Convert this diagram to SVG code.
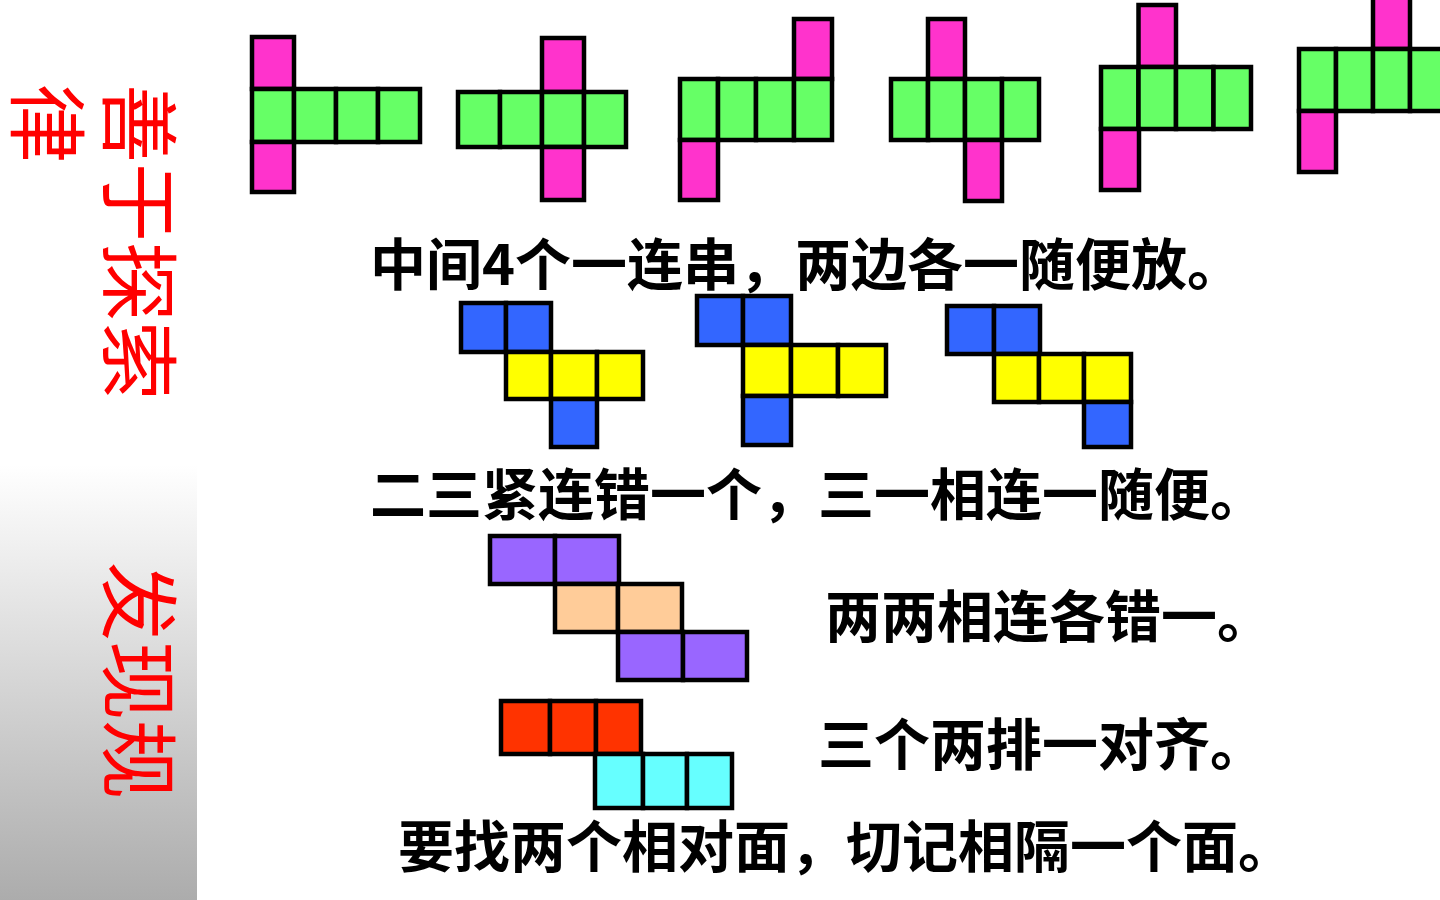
<svg xmlns="http://www.w3.org/2000/svg" width="1440" height="900" viewBox="0 0 1440 900">
<defs>
<linearGradient id="side" x1="0" y1="0" x2="0" y2="1">
<stop offset="0" stop-color="#ffffff"/>
<stop offset="1" stop-color="#acacac"/>
</linearGradient>
</defs>
<style>
rect.c{stroke:#000;stroke-width:4.5}
.g{fill:#66ff66}.m{fill:#ff33cc}.b{fill:#3366ff}.y{fill:#ffff00}
.p{fill:#9966ff}.o{fill:#ffcc99}.r{fill:#ff3300}.cy{fill:#66ffff}
.side{font-family:"Noto Sans CJK SC","Noto Sans CJK JP",sans-serif;font-size:79px;fill:#ff0000}
.t{font-family:"Noto Sans CJK SC","Noto Sans CJK JP",sans-serif;font-size:56px;font-weight:bold;fill:#000}
</style>
<rect width="1440" height="900" fill="#ffffff"/>
<g id="sidebar">
<rect x="0" y="465" width="197" height="435" fill="url(#side)"/>
<text class="side" transform="translate(109,84) rotate(90)">善于探索</text>
<text class="side" transform="translate(109,562) rotate(90)">发现规</text>
<text class="side" transform="translate(17,84) rotate(90)">律</text>
</g>
<g id="net1">
<rect class="c m" x="252" y="37" width="42" height="52"/>
<rect class="c g" x="252" y="89" width="42" height="53"/>
<rect class="c g" x="294" y="89" width="42" height="53"/>
<rect class="c g" x="336" y="89" width="42" height="53"/>
<rect class="c g" x="378" y="89" width="42" height="53"/>
<rect class="c m" x="252" y="142" width="42" height="50"/>
</g>
<g id="net2">
<rect class="c m" x="542" y="38" width="42" height="54"/>
<rect class="c g" x="458" y="92" width="42" height="55"/>
<rect class="c g" x="500" y="92" width="42" height="55"/>
<rect class="c g" x="542" y="92" width="42" height="55"/>
<rect class="c g" x="584" y="92" width="42" height="55"/>
<rect class="c m" x="542" y="147" width="42" height="53"/>
</g>
<g id="net3">
<rect class="c m" x="794" y="19" width="38" height="60"/>
<rect class="c g" x="680" y="79" width="38" height="61"/>
<rect class="c g" x="718" y="79" width="38" height="61"/>
<rect class="c g" x="756" y="79" width="38" height="61"/>
<rect class="c g" x="794" y="79" width="38" height="61"/>
<rect class="c m" x="680" y="140" width="38" height="60"/>
</g>
<g id="net4">
<rect class="c m" x="928" y="19" width="37" height="60"/>
<rect class="c g" x="891" y="79" width="37" height="61"/>
<rect class="c g" x="928" y="79" width="37" height="61"/>
<rect class="c g" x="965" y="79" width="37" height="61"/>
<rect class="c g" x="1002" y="79" width="37" height="61"/>
<rect class="c m" x="965" y="140" width="37" height="61"/>
</g>
<g id="net5">
<rect class="c m" x="1138.5" y="5" width="37.5" height="62"/>
<rect class="c g" x="1101" y="67" width="37.5" height="62"/>
<rect class="c g" x="1138.5" y="67" width="37.5" height="62"/>
<rect class="c g" x="1176" y="67" width="37.5" height="62"/>
<rect class="c g" x="1213.5" y="67" width="37.5" height="62"/>
<rect class="c m" x="1101" y="129" width="38" height="61"/>
</g>
<g id="net6">
<rect class="c m" x="1373" y="-10" width="37" height="59"/>
<rect class="c g" x="1299" y="49" width="37" height="62"/>
<rect class="c g" x="1336" y="49" width="37" height="62"/>
<rect class="c g" x="1373" y="49" width="37" height="62"/>
<rect class="c g" x="1410" y="49" width="37" height="62"/>
<rect class="c m" x="1299" y="111" width="37" height="61"/>
</g>
<text id="label1" class="t" x="370" y="285">中间4个一连串，两边各一随便放。</text>
<g id="net7">
<rect class="c b" x="461" y="303" width="45" height="49"/>
<rect class="c b" x="506" y="303" width="45" height="49"/>
<rect class="c y" x="506" y="352" width="45" height="47"/>
<rect class="c y" x="551" y="352" width="46" height="47"/>
<rect class="c y" x="597" y="352" width="46" height="47"/>
<rect class="c b" x="551" y="399" width="46" height="48"/>
</g>
<g id="net8">
<rect class="c b" x="697" y="296" width="46" height="49"/>
<rect class="c b" x="743" y="296" width="48" height="49"/>
<rect class="c y" x="743" y="345" width="48" height="51"/>
<rect class="c y" x="791" y="345" width="47" height="51"/>
<rect class="c y" x="838" y="345" width="48" height="51"/>
<rect class="c b" x="743" y="396" width="48" height="49"/>
</g>
<g id="net9">
<rect class="c b" x="947" y="306" width="47" height="48"/>
<rect class="c b" x="994" y="306" width="46" height="48"/>
<rect class="c y" x="994" y="354" width="45" height="48"/>
<rect class="c y" x="1039" y="354" width="45" height="48"/>
<rect class="c y" x="1084" y="354" width="47" height="48"/>
<rect class="c b" x="1084" y="402" width="47" height="45"/>
</g>
<text id="label2" class="t" x="370" y="515">二三紧连错一个，三一相连一随便。</text>
<g id="net10">
<rect class="c p" x="490" y="536" width="65" height="48"/>
<rect class="c p" x="555" y="536" width="64" height="48"/>
<rect class="c o" x="555" y="584" width="63" height="48"/>
<rect class="c o" x="618" y="584" width="64" height="48"/>
<rect class="c p" x="618" y="632" width="65" height="48"/>
<rect class="c p" x="683" y="632" width="64" height="48"/>
</g>
<text id="label3" class="t" x="825" y="637">两两相连各错一。</text>
<g id="net11">
<rect class="c r" x="501" y="701" width="49" height="53"/>
<rect class="c r" x="550" y="701" width="46" height="53"/>
<rect class="c r" x="596" y="701" width="45" height="53"/>
<rect class="c cy" x="595" y="754" width="48" height="54"/>
<rect class="c cy" x="643" y="754" width="44" height="54"/>
<rect class="c cy" x="687" y="754" width="45" height="54"/>
</g>
<text id="label4" class="t" x="818" y="765">三个两排一对齐。</text>
<text id="label5" class="t" x="398" y="867">要找两个相对面，切记相隔一个面。</text>
</svg>
